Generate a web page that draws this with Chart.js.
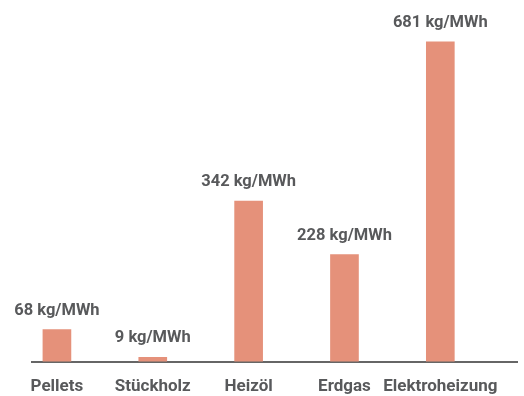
<!DOCTYPE html>
<html>
<head>
<meta charset="utf-8">
<script src="https://cdn.jsdelivr.net/npm/chart.js@4.4.1/dist/chart.umd.min.js"></script>
<style>
  html, body { margin: 0; padding: 0; background: #fff; }
  #wrap { width: 524px; height: 396px; position: relative; }
</style>
</head>
<body>
<div id="wrap"><canvas id="emissions"></canvas></div>
<script>
'use strict';

// categories and CO2 values (kg/MWh)
var categories = ['Pellets', 'Stückholz', 'Heizöl', 'Erdgas', 'Elektroheizung'];
var values = [68, 9, 342, 228, 681];
var unit = ' kg/MWh';

var textColor = '#58595b';
var barColor = '#e5917a';
var fontFamily = 'Roboto, "DejaVu Sans", sans-serif';

// draws the value label above each bar
var valueLabels = {
	id: 'valueLabels',
	afterDatasetsDraw: function (chart) {
		var ctx = chart.ctx;
		var meta = chart.getDatasetMeta(0);
		ctx.save();
		ctx.font = 'bold 16.5px ' + fontFamily;
		ctx.fillStyle = textColor;
		ctx.textAlign = 'center';
		ctx.textBaseline = 'alphabetic';
		meta.data.forEach(function (bar, i) {
			ctx.fillText(values[i] + unit, bar.x, bar.y - 15);
		});
		ctx.restore();
	}
};

var points = values.map(function (v, i) {
	return { x: i, y: v };
});

var chart = new Chart(document.getElementById('emissions'), {
	type: 'bar',
	data: {
		datasets: [{
			data: points,
			backgroundColor: barColor,
			borderWidth: 0,
			barThickness: 28
		}]
	},
	options: {
		responsive: true,
		maintainAspectRatio: false,
		animation: false,
		layout: {
			padding: { top: 33, left: 32, right: 7, bottom: -16 }
		},
		plugins: {
			legend: { display: false },
			tooltip: { enabled: false }
		},
		scales: {
			x: {
				type: 'linear',
				offset: false,
				min: -0.26,
				max: 4.8,
				afterBuildTicks: function (axis) {
					axis.ticks = categories.map(function (c, i) { return { value: i }; });
				},
				grid: {
					offset: false,
					drawOnChartArea: false,
					drawTicks: false
				},
				border: {
					display: true,
					color: '#666666',
					width: 2
				},
				ticks: {
					padding: 15,
					autoSkip: false,
					maxRotation: 0,
					color: textColor,
					font: { family: fontFamily, size: 17, weight: 'bold' },
					callback: function (value) {
						return categories[value];
					}
				}
			},
			y: {
				display: false,
				min: 0,
				max: 700
			}
		}
	},
	plugins: [valueLabels]
});
</script>
</body>
</html>
